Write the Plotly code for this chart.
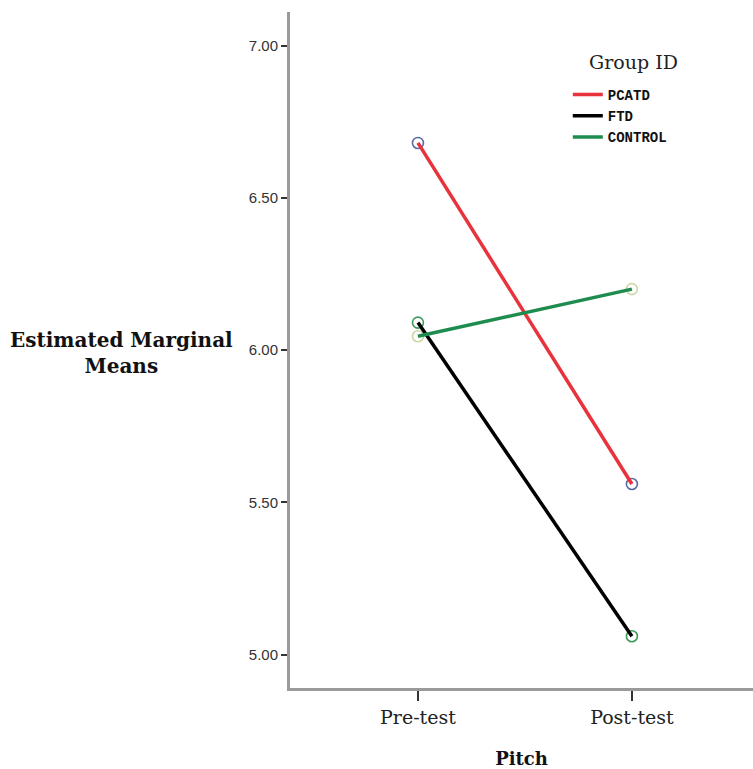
import plotly.graph_objects as go

categories = ["Pre-test", "Post-test"]
groups = ["PCATD", "FTD", "CONTROL"]
pcatd = [6.68, 5.56]
ftd = [6.09, 5.06]
control = [6.045, 6.20]
y_ticks = [5.0, 5.5, 6.0, 6.5, 7.0]

series = {"PCATD": pcatd, "FTD": ftd, "CONTROL": control}
line_colors = {"PCATD": "#e8323c", "FTD": "#000000", "CONTROL": "#1e8c4e"}
marker_colors = {"PCATD": "#5a6aa8", "FTD": "#3c9a5c", "CONTROL": "#cdd8a8"}

fig = go.Figure()
for g in groups:
    fig.add_trace(go.Scatter(
        x=categories, y=series[g], mode="markers", showlegend=False,
        marker=dict(symbol="circle-open", size=11, color=marker_colors[g],
                    line=dict(width=1.6, color=marker_colors[g])),
        hoverinfo="skip"))
for g in groups:
    fig.add_trace(go.Scatter(
        x=categories, y=series[g], mode="lines", name=g,
        line=dict(color=line_colors[g], width=3.5)))

fig.update_layout(
    width=753, height=769,
    margin=dict(l=290, r=0, t=12, b=81),
    plot_bgcolor="white", paper_bgcolor="white",
    showlegend=True,
    legend=dict(
        font=dict(family="Liberation Mono", size=14, color="#111", weight="bold"),
        x=0.60, y=0.901, xanchor="left", yanchor="top",
        bgcolor="rgba(0,0,0,0)", itemwidth=30, tracegroupgap=0),
)
fig.update_xaxes(
    type="category", range=[-0.598, 1.566],
    showline=True, linecolor="#9a9a9a", linewidth=3,
    ticks="outside", ticklen=10, tickwidth=2, tickcolor="#333",
    tickfont=dict(family="DejaVu Serif", size=19, color="#222"),
    showgrid=False, zeroline=False,
    title=dict(text="<b>Pitch</b>", standoff=26,
               font=dict(family="DejaVu Serif", size=18, color="#111")))
fig.update_yaxes(
    range=[4.89, 7.11], tickvals=y_ticks, tickformat=".2f",
    showline=True, linecolor="#9a9a9a", linewidth=3,
    ticks="outside", ticklen=6, tickwidth=2, tickcolor="#333",
    tickfont=dict(family="Liberation Sans", size=15, color="#333"),
    showgrid=False, zeroline=False)

fig.add_annotation(
    text="<b>Estimated Marginal<br>Means</b>", xref="paper", yref="y",
    x=-0.364, y=5.99, xanchor="center", yanchor="middle", showarrow=False,
    align="center",
    font=dict(family="DejaVu Serif", size=20, color="#111"))

fig.add_annotation(
    text="Group ID", xref="paper", yref="paper",
    x=0.742, y=0.926, xanchor="center", yanchor="middle", showarrow=False,
    font=dict(family="DejaVu Serif", size=19, color="#222"))

fig.write_html("out.html")
